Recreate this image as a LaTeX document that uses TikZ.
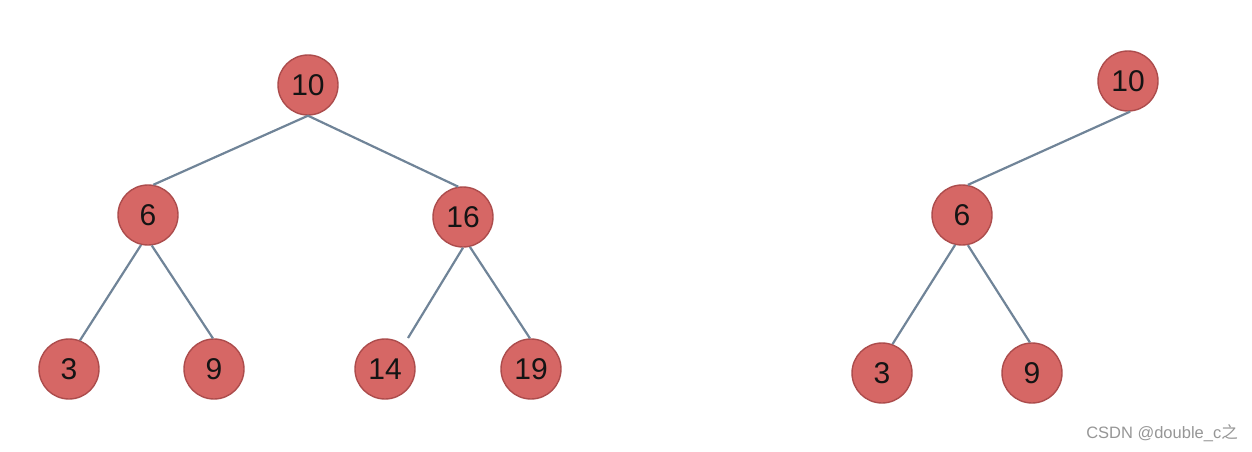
\documentclass[tikz,border=0pt]{standalone}
\usepackage{fontspec}
\setmainfont{Liberation Sans}
\newfontfamily\cjk{Noto Sans CJK SC}
\definecolor{nodefill}{RGB}{214,103,101}
\definecolor{nodeedge}{RGB}{172,76,76}
\definecolor{edgecol}{RGB}{112,132,152}
\definecolor{wm}{RGB}{150,150,150}
\definecolor{numcol}{RGB}{20,20,20}
\begin{document}
\begin{tikzpicture}[x=1pt,y=-1pt,
  tnode/.style={circle,fill=nodefill,draw=nodeedge,line width=1.4pt,minimum size=60pt,inner sep=0pt,text=numcol,font=\fontsize{30}{33}\selectfont},
  tedge/.style={draw=edgecol,line width=2.2pt}]
\useasboundingbox (0,0) rectangle (1252,452);
% left tree
\node[tnode] (a10) at (308,85) {10};
\node[tnode] (a6) at (148,215) {6};
\node[tnode] (a16) at (463,217) {16};
\node[tnode] (a3) at (69,369) {3};
\node[tnode] (a9) at (214,369) {9};
\node[tnode] (a14) at (385,369) {14};
\node[tnode] (a19) at (531,369) {19};
\draw[tedge] (a10.-90) -- (a6.80);
\draw[tedge] (a10.-90) -- (a16.99);
\draw[tedge] (a6.-103) -- (a3.69);
\draw[tedge] (a6.-83) -- (a9.92);
\coordinate (e14) at (408,338);
\draw[tedge] (a16.-90) -- (e14);
\draw[tedge] (a16.-77) -- (a19.92);
% right tree
\node[tnode] (b10) at (1128,81) {10};
\node[tnode] (b6) at (962,215) {6};
\node[tnode] (b3) at (882,373) {3};
\node[tnode] (b9) at (1032,373) {9};
\draw[tedge] (b10.-86) -- (b6.79);
\draw[tedge] (b6.-103) -- (b3.70);
\draw[tedge] (b6.-79) -- (b9.94);
% watermark
\node[anchor=east,text=wm,font=\fontsize{16.5}{19}\selectfont,inner sep=0pt] (wmk) at (1238,433) {CSDN @double\_c{\cjk 之}};
\end{tikzpicture}
\end{document}
